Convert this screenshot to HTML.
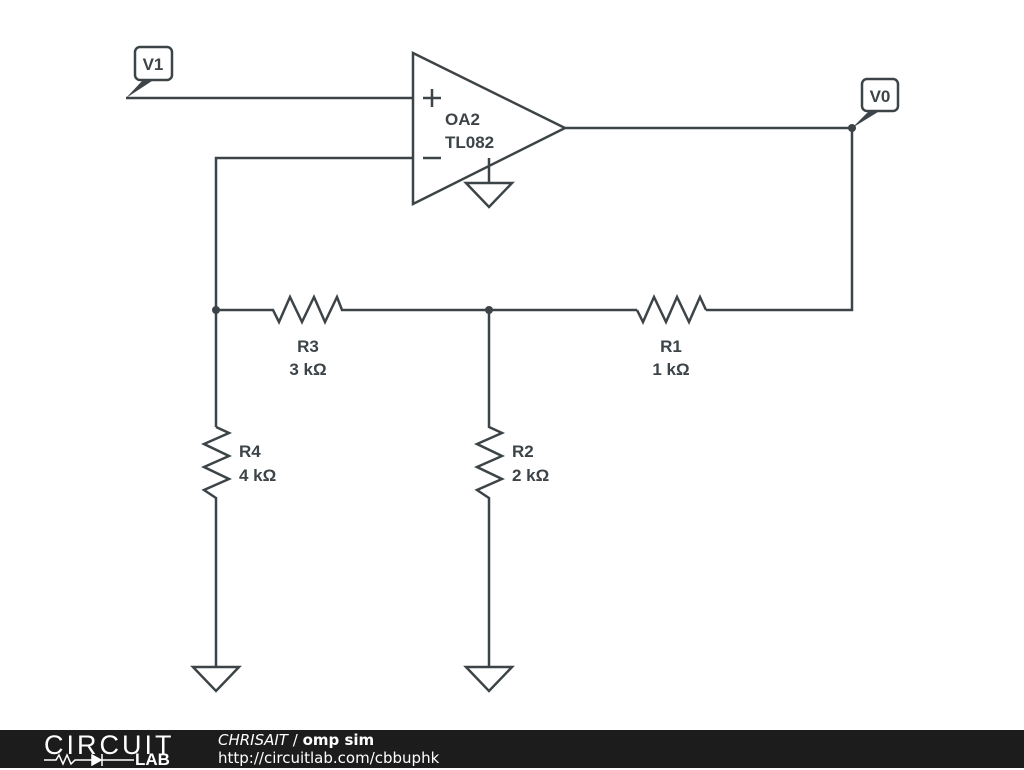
<!DOCTYPE html>
<html><head><meta charset="utf-8"><style>
body{margin:0;width:1024px;height:768px;background:#fff;overflow:hidden;position:relative;font-family:"Liberation Sans",sans-serif}
svg{position:absolute;left:0;top:0}
.f{position:absolute;left:0;top:730px;width:1024px;height:38px;background:#1c1c1c}
</style></head><body>
<svg width="1024" height="768" viewBox="0 0 1024 768">
<g stroke="#3d4448" stroke-width="2.5" fill="none" stroke-linejoin="miter">
<polygon points="413,53 413,204 565,128"/>
<line x1="423" y1="98" x2="441" y2="98"/><line x1="432" y1="89" x2="432" y2="107"/>
<line x1="423" y1="158" x2="441" y2="158"/>
<line x1="489" y1="158" x2="489" y2="183"/>
<polygon points="466,183 512,183 489,207"/>
<polyline points="126,98 413,98"/>
<polyline points="413,158 216,158 216,427"/>
<polyline points="565,128 852,128 852,310 706,310"/>
<polyline points="216,310 273,310 279,322 290,297 302,322 314,297 325,322 337,297 342,310 637,310"/>
<polyline points="637,310 643,322 654,297 666,322 677,297 689,322 700,297 706,310"/>
<polyline points="216,427 229,433 204,444 229,456 204,467 229,479 204,490 216,498 216,667"/>
<polyline points="489,310 489,427 502,433 477,444 502,456 477,467 502,479 477,490 489,498 489,667"/>
<polygon points="193,667 239,667 216,691"/>
<polygon points="466,667 512,667 489,691"/>
<rect x="135" y="47" width="37" height="33" rx="5" fill="#fff"/>
<rect x="862" y="79" width="36" height="32" rx="5" fill="#fff"/>
</g>
<polygon points="126,98 142,81 152,81" fill="#3d4448"/>
<polygon points="852,128 868,112 878,112" fill="#3d4448"/>
<circle cx="216" cy="310" r="4" fill="#3d4448"/>
<circle cx="489" cy="310" r="4" fill="#3d4448"/>
<circle cx="852" cy="128" r="4" fill="#3d4448"/>
<g fill="#3d4448" font-family="Liberation Sans,sans-serif" font-weight="bold" font-size="17">
<text x="153" y="70" text-anchor="middle">V1</text>
<text x="880" y="102" text-anchor="middle">V0</text>
<text x="445" y="125">OA2</text>
<text x="445" y="148">TL082</text>
<text x="308" y="352" text-anchor="middle">R3</text>
<text x="308" y="375" text-anchor="middle">3 kΩ</text>
<text x="671" y="352" text-anchor="middle">R1</text>
<text x="671" y="375" text-anchor="middle">1 kΩ</text>
<text x="239" y="457">R4</text>
<text x="239" y="481">4 kΩ</text>
<text x="512" y="457">R2</text>
<text x="512" y="481">2 kΩ</text>
</g>
</svg>
<div class="f">
<div style="position:absolute;left:44px;top:0;color:#fff;font-size:27px;letter-spacing:3px;font-weight:300">CIRCUIT</div>
<div style="position:absolute;left:135px;top:20px;color:#fff;font-size:17px;font-weight:bold">LAB</div>
<svg style="position:absolute;left:44px;top:22px" width="90" height="14"><g stroke="#fff" stroke-width="1.5" fill="none"><polyline points="0,8 12,8 15,3 19,12 23,3 27,12 31,8 48,8"/><polygon points="48,3 48,13 57,8" fill="#fff"/><line x1="58" y1="2" x2="58" y2="14"/><line x1="58" y1="8" x2="90" y2="8"/></g></svg>
<div style="position:absolute;left:218px;top:1px;color:#fff;font-size:15px;font-family:'DejaVu Sans',sans-serif"><i>CHRISAIT</i> / <b>omp sim</b></div>
<div style="position:absolute;left:218px;top:19px;color:#fff;font-size:15px;font-family:'DejaVu Sans',sans-serif">http://circuitlab.com/cbbuphk</div>
</div>
</body></html>
